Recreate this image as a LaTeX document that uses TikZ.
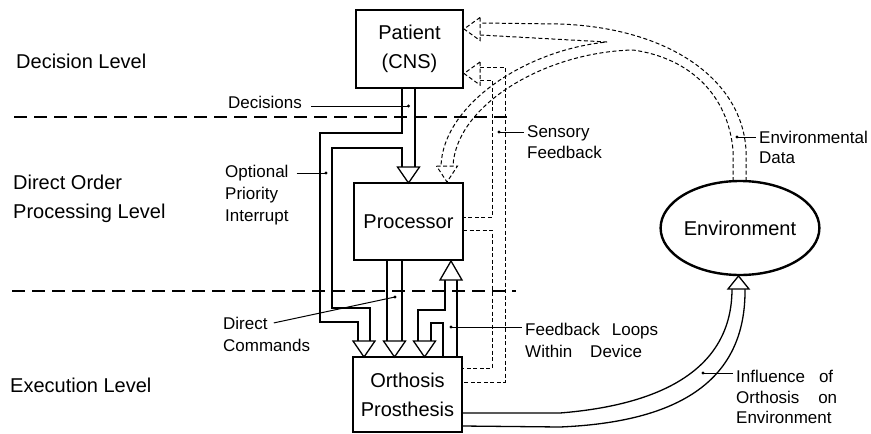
\documentclass[tikz,border=0pt]{standalone}
\usepackage{fontspec}
\setmainfont{Liberation Sans}
\usetikzlibrary{shapes.geometric,calc}
% vertical hollow head: style, tip x, tip y, length (+ : points down, - : points up), half width
\newcommand\vhead[5]{\path[draw,fill=white,#1] ({#2-(#5)},{#3-(#4)}) -- ({#2+(#5)},{#3-(#4)}) -- (#2,#3) -- cycle;}
% horizontal hollow head pointing left: style, tip x, tip y, length, half width
\newcommand\hhead[5]{\path[draw,fill=white,#1] ({#2+(#4)},{#3-(#5)}) -- ({#2+(#4)},{#3+(#5)}) -- (#2,#3) -- cycle;}
\begin{document}
\begin{tikzpicture}[x=1pt,y=-1pt,
  box/.style={draw, line width=2.4pt, fill=white, inner sep=0pt, align=center, font=\fontsize{20}{29}\selectfont},
  lvl/.style={anchor=base west, inner sep=0pt, font=\fontsize{20}{24}\selectfont},
  lab/.style={anchor=base west, inner sep=0pt, font=\fontsize{17}{21}\selectfont},
  chan/.style={line width=1.3pt, line join=miter},
  fb/.style={line width=1pt, dash pattern=on 4pt off 2.5pt},
  lvline/.style={line width=1.4pt, dash pattern=on 13pt off 7pt},
  lead/.style={line width=1pt},
  dot/.style={fill=black}]
\useasboundingbox (0,0) rectangle (871,434);

% level separators
\coordinate (l1a) at (14,117); \coordinate (l1b) at (514,117);
\coordinate (l2a) at (12,291); \coordinate (l2b) at (516,291);
\draw[lvline] (l1a) -- (l1b);
\draw[lvline] (l2a) -- (l2b);

% boxes
\node[box, minimum width=107pt, minimum height=78pt] (pat) at (409.5,49) {Patient\\(CNS)};
\node[box, minimum width=109pt, minimum height=77pt] (proc) at (408.5,221.5) {Processor};
\node[box, minimum width=109pt, minimum height=75pt] (orth) at (407.5,394.5) {Orthosis\\Prosthesis};
\node[ellipse, draw, line width=2.4pt, minimum width=156pt, minimum height=94pt, inner sep=0pt,
      font=\fontsize{20}{24}\selectfont] (env) at (740,228) {Environment};

% level labels
\node[lvl] (ldec) at (16,68) {Decision Level};
\node[lvl] (ldir) at (13,189) {Direct Order};
\node[lvl] (lproc) at (13,218) {Processing Level};
\node[lvl] (lexe) at (10,392) {Execution Level};

% decisions channel
\draw[chan] (415,88) -- (415,167);
\draw[chan] (402,88) -- (402,133) -- (320,133) -- (320,322) -- (358,322) -- (358,341);
\draw[chan] (402,167) -- (402,148) -- (332,148) -- (332,308) -- (370,308) -- (370,341);
\vhead{chan}{408.5}{183}{16}{11}
\vhead{chan}{364}{357}{16}{11}

% direct commands
\draw[chan] (387,260) -- (387,341);
\draw[chan] (402,260) -- (402,341);
\vhead{chan}{394.5}{357}{16}{11}

% feedback loops within device
\draw[chan] (445,280) -- (445,310) -- (418,310) -- (418,341);
\draw[chan] (443,357) -- (443,323) -- (431,323) -- (431,341);
\draw[chan] (457,357) -- (457,280);
\vhead{chan}{424.5}{357}{16}{11}
\vhead{chan}{451}{261}{-19}{11}

% influence of orthosis on environment
\draw[chan] (462,413) -- (560,413) .. controls (660,405) and (732,370) .. (732,289);
\draw[chan] (462,426) -- (560,427) .. controls (680,422) and (746,380) .. (745,289);
\vhead{chan}{738.5}{276}{-13}{10.5}

% environmental data
\draw[fb] (746,181) -- (746,150) .. controls (742,80) and (670,28) .. (560,24) -- (480,23);
\draw[fb] (733,181) -- (733,150) .. controls (728,95) and (690,58) .. (633,50)
          .. controls (545,52) and (456,105) .. (453,166);
\draw[fb] (480,35) -- (607,42) .. controls (525,50) and (443,105) .. (441,166);
\hhead{fb}{464}{29}{16}{11.5}
\vhead{fb}{447}{182}{16}{10.5}

% sensory feedback
\draw[fb] (480,67) -- (505,67) -- (505,382) -- (462,382);
\draw[fb] (480,80) -- (492,80) -- (492,217) -- (463,217);
\draw[fb] (463,230) -- (492,230) -- (492,368) -- (462,368);
\hhead{fb}{464}{73.5}{16}{11.5}

% labels with leaders
\node[lab, anchor=base east] (tdec) at (302,108) {Decisions};
\coordinate (ddec) at (408.5,106);
\draw[lead] ($(ddec -| tdec.east)+(9,0)$) -- (ddec);
\fill[dot] (ddec) circle[radius=1.7];

\node[lab] (topt) at (225,177) {Optional};
\node[lab] (tpri) at (225,199) {Priority};
\node[lab] (tint) at (225,221) {Interrupt};
\coordinate (dopt) at (326,173);
\draw[lead] ($(dopt -| topt.east)+(8,0)$) -- (dopt);
\fill[dot] (dopt) circle[radius=1.7];

\node[lab] (tdir) at (223,329) {Direct};
\node[lab] (tcom) at (223,351) {Commands};
\coordinate (dcmd) at (395,297);
\draw[lead] ($(tdir.east)+(6,0)$) -- (dcmd);
\fill[dot] (dcmd) circle[radius=1.7];

\node[lab] (tsen) at (527,137) {Sensory};
\node[lab] (tfee) at (527,158) {Feedback};
\coordinate (dsen) at (499,132);
\draw[lead] (dsen) -- ($(dsen -| tsen.west)+(-3,0)$);
\fill[dot] (dsen) circle[radius=1.7];

\node[lab] (tenv) at (759,143) {Environmental};
\node[lab] (tdat) at (759,163) {Data};
\coordinate (denv) at (737,137);
\draw[lead] (denv) -- ($(denv -| tenv.west)+(-3,0)$);
\fill[dot] (denv) circle[radius=1.7];

\node[lab] (tfbl) at (525,335) {\makebox[133pt][s]{Feedback\hfill Loops}};
\node[lab] (twit) at (525,357) {\makebox[117pt][s]{Within\hfill Device}};
\coordinate (dfbl) at (451,327);
\draw[lead] (dfbl) -- ($(dfbl -| tfbl.west)+(-3,0)$);
\fill[dot] (dfbl) circle[radius=1.7];

\node[lab] (tinf) at (736,382) {\makebox[97pt][s]{Influence\hfill of}};
\node[lab] (tort) at (736,403) {\makebox[101pt][s]{Orthosis\hfill on}};
\node[lab] (tenm) at (736,423) {Environment};
\coordinate (dinf) at (703,373);
\draw[lead] (dinf) -- ($(dinf -| tinf.west)+(-3,0)$);
\fill[dot] (dinf) circle[radius=1.7];
\end{tikzpicture}
\end{document}
